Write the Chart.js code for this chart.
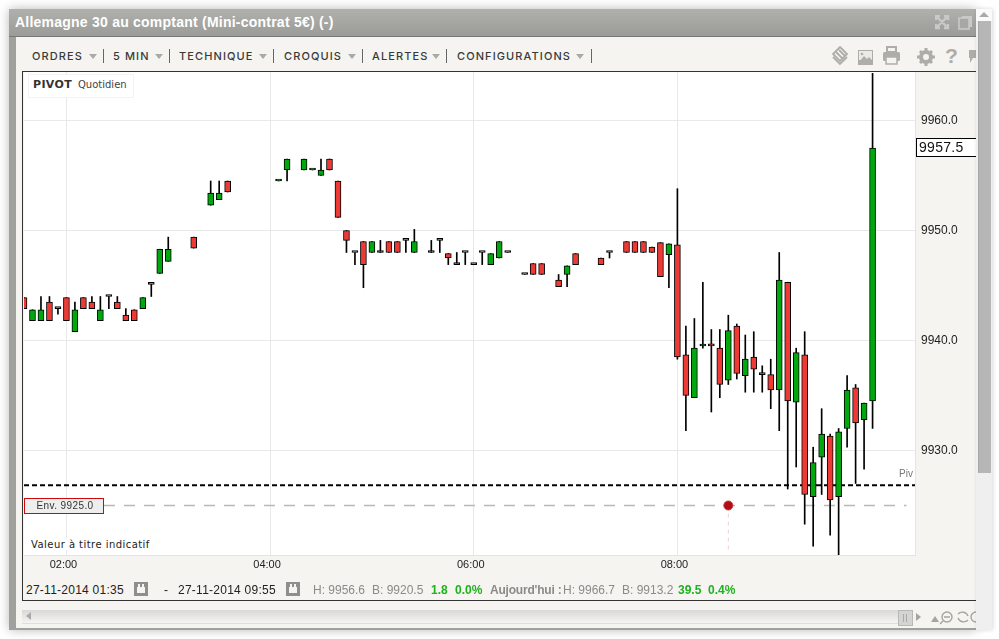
<!DOCTYPE html>
<html>
<head>
<meta charset="utf-8">
<title>Allemagne 30</title>
<script src="https://cdn.jsdelivr.net/npm/chart.js@4"></script>
<style>
html, body { margin: 0; padding: 0; background: #fff; overflow: hidden; }
body { width: 999px; height: 639px; position: relative; font-family: "Liberation Sans", Arial, sans-serif; }
div, span, canvas, svg { position: absolute; }
#win { left: 9px; top: 9px; width: 967px; height: 621px; background: #a0a19d; box-shadow: 0 0 10px rgba(0,0,0,.28); }
#titlebar { left: 9px; top: 9px; width: 967px; height: 27px; background: linear-gradient(#b0b1ad, #9b9c98); border-bottom: 1px solid #777; }
#title { left: 15px; top: 14px; font-size: 14px; font-weight: bold; letter-spacing: .23px; color: #fff; white-space: nowrap; }
#panel { left: 16px; top: 37px; width: 960px; height: 591px; background: #f5f4f1; }
#frame { left: 21.5px; top: 71px; width: 955px; border-top: 1.5px solid #333; border-left: 1.5px solid #333; border-bottom: 1.5px solid #333; height: 528px; }
#chartBox { left: 24px; top: 72px; width: 952px; height: 505px; }
.menu { top: 49px; font-family: Inter, "Open Sans", sans-serif; font-size: 11px; font-weight: 500; letter-spacing: 1.1px; color: #3a3a38; white-space: nowrap; }
.arrow { top: 54px; width: 0; height: 0; border-left: 4.5px solid transparent; border-right: 4.5px solid transparent; border-top: 5px solid #aaa9a4; }
.sep { top: 49px; width: 1px; height: 14px; background: #666; }
.foot { top: 583px; font-size: 12px; color: #222; white-space: nowrap; }
.date { letter-spacing: .25px; }
.gray { color: #8a8a88; }
.green { color: #1fb21f; font-weight: bold; }
.cal { top: 582px; width: 14px; height: 14px; background: #8e8e8c; }
.cal i { position: absolute; left: 3px; top: 5px; width: 8px; height: 6px; background: #f5f4f1; display: block; }
.cal b { position: absolute; top: 2px; width: 2px; height: 3px; background: #f5f4f1; display: block; }
#pivotTag { left: 28px; top: 74px; width: 104px; height: 22px; background: #fff; border: 1px solid #f3f3f3; }
#pivotName { left: 33px; top: 78px; font: bold 11px "DejaVu Sans", sans-serif; letter-spacing: .35px; color: #333; }
#pivotKind { left: 78px; top: 79px; font: 10px "DejaVu Sans", sans-serif; color: #444; }
#note { left: 30px; top: 539px; padding: 0 1px; background: #fff; font: 10px "DejaVu Sans", sans-serif; letter-spacing: .45px; color: #222; white-space: nowrap; }
#vbar { left: 976px; top: 9px; width: 16px; height: 621px; background: #efefef; box-shadow: 1px 0 4px rgba(0,0,0,.15); }
#vtop { left: 976px; top: 9px; width: 16px; height: 12px; background: #fafafa; }
#vtri { left: 979px; top: 12px; width: 0; height: 0; border-left: 5px solid transparent; border-right: 5px solid transparent; border-top: 0; border-bottom: 5px solid #aaa; }
#vthumb { left: 978px; top: 21px; width: 13px; height: 452px; background: #b6b6b6; border-left: 1px solid #a8a8a8; box-sizing: border-box; }
#hbar { left: 22px; top: 610px; width: 876px; height: 13px; background: linear-gradient(#d8d8d6, #f5f4f1); border-bottom: 1px solid #dedede; }
#hthumb { left: 898px; top: 610px; width: 13px; height: 14px; background: #d4d4d0; border: 1px solid #b8b8b4; }
#hthumb i { position: absolute; left: 4px; top: 3px; width: 4px; height: 8px; border-left: 1px solid #aaa; border-right: 1px solid #aaa; box-sizing: border-box; display: block; }
.tri { width: 0; height: 0; }
</style>
</head>
<body>
<div id="win"></div>
<div id="titlebar"></div>
<div id="title">Allemagne 30 au comptant (Mini-contrat 5€) (-)</div>
<svg style="left:935px;top:15px" width="40" height="16" viewBox="0 0 40 16">
  <g fill="none" stroke="#c9cac7" stroke-width="2.4">
    <path d="M1 5V1H5M9 1H13V5M13 9V13H9M5 13H1V9M2 2L12 12M12 2L2 12"/>
  </g>
  <rect x="27" y="1" width="10" height="11" fill="#c9cac7"/>
  <rect x="24" y="3" width="10" height="11" fill="#a7a8a4" stroke="#c9cac7" stroke-width="1.6"/>
</svg>
<div id="panel"></div>
<div id="frame"></div>

<div class="menu" style="left:32px">ORDRES</div><div class="arrow" style="left:89px"></div><div class="sep" style="left:103px"></div>
<div class="menu" style="left:113px">5 MIN</div><div class="arrow" style="left:155px"></div><div class="sep" style="left:169px"></div>
<div class="menu" style="left:179px">TECHNIQUE</div><div class="arrow" style="left:259px"></div><div class="sep" style="left:273px"></div>
<div class="menu" style="left:284px">CROQUIS</div><div class="arrow" style="left:348px"></div><div class="sep" style="left:362px"></div>
<div class="menu" style="left:372px">ALERTES</div><div class="arrow" style="left:432px"></div><div class="sep" style="left:446px"></div>
<div class="menu" style="left:457px">CONFIGURATIONS</div><div class="arrow" style="left:576px"></div><div class="sep" style="left:591px"></div>

<svg style="left:830px;top:46px" width="146" height="22" viewBox="0 0 146 22">
  <g fill="none" stroke="#aeada8" stroke-width="1.8"><path d="M10 1L17 8L10 15L3 8Z"/><path d="M3 11L10 18L17 11"/><path d="M6 6L13 13M9 4L15 10"/></g>
  <rect x="28" y="4" width="15" height="15" fill="#aeada8"/><rect x="29" y="5" width="13" height="9" fill="#eceae6"/><path d="M29 16L34 10L37 13L39 11L42 14V18H29Z" fill="#aeada8"/><circle cx="32" cy="8" r="1.3" fill="#aeada8"/>
  <rect x="57" y="1" width="9" height="5" fill="none" stroke="#aeada8" stroke-width="2"/><rect x="53" y="6" width="17" height="9" rx="1.5" fill="#aeada8"/><rect x="56" y="11" width="11" height="7" fill="#f5f4f1" stroke="#aeada8" stroke-width="1.5"/>
  <circle cx="96" cy="11" r="5" fill="none" stroke="#aeada8" stroke-width="4"/><g stroke="#aeada8" stroke-width="3"><path d="M96 2V5M96 17V20M87 11H90M102 11H105M90 5L92 7M100 15L102 17M102 5L100 7M92 15L90 17"/></g>
  <path d="M139 4H146V12H143L140 17V12H139Z" fill="#aeada8"/>
</svg>
<div style="left:945px;top:44px;font:bold 21px 'Liberation Sans';color:#aeada8">?</div>

<div id="chartBox"><canvas id="chart" width="952" height="505" style="position:static;display:block"></canvas></div>

<div id="pivotTag"></div>
<div id="pivotName">PIVOT</div>
<div id="pivotKind">Quotidien</div>
<div id="note">Valeur à titre indicatif</div>

<div class="foot date" style="left:26px">27-11-2014 01:35</div>
<div class="cal" style="left:134px"><i></i><b style="left:4px"></b><b style="left:8px"></b></div>
<div class="foot" style="left:164px">-</div>
<div class="foot date" style="left:178px">27-11-2014 09:55</div>
<div class="cal" style="left:286px"><i></i><b style="left:4px"></b><b style="left:8px"></b></div>
<div class="foot gray" style="left:313px">H: 9956.6</div>
<div class="foot gray" style="left:372px">B: 9920.5</div>
<div class="foot green" style="left:431px">1.8</div>
<div class="foot green" style="left:455px">0.0%</div>
<div class="foot gray" style="left:490px;font-weight:bold;letter-spacing:-.2px">Aujourd'hui :</div>
<div class="foot gray" style="left:563px">H: 9966.7</div>
<div class="foot gray" style="left:622px">B: 9913.2</div>
<div class="foot green" style="left:678px">39.5</div>
<div class="foot green" style="left:708px">0.4%</div>

<div id="hbar"></div>
<div id="hthumb"><i></i></div>
<div class="tri" style="left:26px;top:612px;border-top:4px solid transparent;border-bottom:4px solid transparent;border-right:5px solid #aaa"></div>
<div class="tri" style="left:916px;top:613px;border-top:4px solid transparent;border-bottom:4px solid transparent;border-left:5px solid #a5a49f"></div>
<svg style="left:930px;top:610px" width="46" height="16" viewBox="0 0 46 16">
  <path d="M1 12L5 6L9 12Z" fill="#a5a49f"/>
  <g fill="none" stroke="#a5a49f" stroke-width="1.4"><circle cx="17" cy="7" r="5"/><path d="M14 7H20M13 11L10 14"/><path d="M28 4A6 6 0 0 1 38 6M38 10A6 6 0 0 1 28 8"/><circle cx="46" cy="7" r="5"/></g>
</svg>

<div id="vbar"></div>
<div id="vtop"></div>
<div id="vtri"></div>
<div id="vthumb"></div>

<script>
const labels = [
  '01:35','01:40','01:45','01:50','01:55','02:00','02:05','02:10','02:15','02:20','02:25','02:30',
  '02:35','02:40','02:45','02:50','02:55','03:00','03:05','03:10','03:15','03:20','03:25','03:30',
  '03:35','03:40','03:45','03:50','03:55','04:00','04:05','04:10','04:15','04:20','04:25','04:30',
  '04:35','04:40','04:45','04:50','04:55','05:00','05:05','05:10','05:15','05:20','05:25','05:30',
  '05:35','05:40','05:45','05:50','05:55','06:00','06:05','06:10','06:15','06:20','06:25','06:30',
  '06:35','06:40','06:45','06:50','06:55','07:00','07:05','07:10','07:15','07:20','07:25','07:30',
  '07:35','07:40','07:45','07:50','07:55','08:00','08:05','08:10','08:15','08:20','08:25','08:30',
  '08:35','08:40','08:45','08:50','08:55','09:00','09:05','09:10','09:15','09:20','09:25','09:30',
  '09:35','09:40','09:45','09:50','09:55','10:00','10:05','10:10','10:15','10:20'
];
const tickLabels = ['02:00','04:00','06:00','08:00'];
const priceTicks = [9930, 9940, 9950, 9960];

const opens = [
  9943.9,9941.8,9941.8,9943.5,9942.9,9943.9,9940.8,9943.9,9943.5,9941.8,9944.0,9943.5,
  9942.3,9942.8,9942.9,9945.1,9946.1,9947.2,null,null,9949.4,null,9952.3,9952.8,
  9954.5,null,null,null,null,null,9954.5,9955.5,null,9955.5,9955.5,9955.0,
  9956.5,9954.5,9950.0,9948.0,9949.0,9948.0,9948.0,9949.0,9949.0,9949.1,9948.0,null,
  9948.0,9949.1,9947.9,9946.9,9948.0,9946.9,9948.0,9946.9,9947.5,9948.0,null,9946.0,
  9947.0,9947.0,null,9945.5,9946.0,9947.9,null,null,9947.5,9948.0,null,9949.0,
  9949.0,9949.0,9948.5,9948.9,9947.8,9948.7,9938.7,9934.8,9939.5,9939.7,9939.3,9936.4,
  9941.3,9936.8,9938.5,9936.9,9936.9,9935.5,9945.3,9934.4,9938.7,9925.8,9929.4,9931.3,
  9925.8,9932.0,9935.7,9932.8,9934.5
];
const closes = [
  9942.9,9942.8,9942.8,9941.8,9942.9,9941.8,9942.8,9942.9,9942.9,9942.8,9944.0,9942.9,
  9941.8,9941.8,9943.9,9945.1,9948.3,9948.3,null,null,9948.4,null,9953.4,9953.4,
  9953.5,null,null,null,null,null,9954.5,9956.5,null,9956.5,9955.5,9955.5,
  9955.5,9951.2,9949.1,9948.0,9946.9,9949.0,9948.0,9948.0,9948.0,9949.1,9949.0,null,
  9948.0,9949.1,9947.5,9946.9,9948.0,9946.9,9948.0,9947.9,9949.0,9948.0,null,9946.0,
  9946.0,9946.0,null,9944.9,9946.8,9946.9,null,null,9946.9,9948.0,null,9948.0,
  9948.0,9948.0,9948.0,9945.8,9948.8,9938.5,9935.0,9939.3,9939.5,9939.5,9936.0,9940.9,
  9937.0,9938.3,9937.4,9936.9,9935.5,9945.5,9934.5,9938.9,9926.0,9928.9,9931.5,9925.5,
  9931.7,9935.5,9932.5,9934.3,9957.5
];
const highs = [
  9943.9,9942.8,9944.0,9944.0,9942.9,9943.9,9943.5,9943.9,9944.0,9944.0,9944.0,9944.0,
  9942.9,9942.8,9943.9,9945.1,9948.3,9949.4,null,null,9949.4,null,9954.5,9954.5,
  9954.5,null,null,null,null,null,9954.5,9956.5,null,9956.5,9955.5,9956.5,
  9956.5,9954.5,9950.0,9948.0,9949.0,9949.0,9949.1,9949.0,9949.0,9949.1,9950.1,null,
  9949.1,9949.1,9947.9,9948.0,9948.0,9946.9,9948.0,9947.9,9949.0,9948.0,null,9946.0,
  9947.0,9947.0,null,9946.0,9946.8,9947.9,null,null,9947.5,9948.0,null,9949.0,
  9949.0,9949.0,9948.5,9948.9,9948.8,9953.8,9941.3,9942.0,9945.3,9941.0,9941.0,9942.3,
  9941.5,9940.5,9940.8,9937.7,9938.3,9948.0,9945.3,9939.3,9940.8,9930.3,9933.8,9931.5,
  9932.0,9936.8,9936.0,9934.3,9964.3
];
const lows = [
  9942.9,9941.8,9941.8,9941.8,9942.4,9941.8,9940.8,9942.9,9942.9,9941.8,9942.9,9942.9,
  9941.8,9941.8,9942.9,9944.0,9946.1,9947.2,null,null,9948.4,null,9952.3,9952.8,
  9953.5,null,null,null,null,null,9954.5,9954.5,null,9955.5,9955.5,9955.0,
  9955.5,9951.2,9948.0,9946.9,9944.8,9948.0,9948.0,9948.0,9948.0,9948.0,9948.0,null,
  9948.0,9948.0,9946.9,9946.9,9946.9,9946.9,9946.9,9946.9,9947.5,9948.0,null,9946.0,
  9946.0,9946.0,null,9944.9,9944.9,9946.9,null,null,9946.9,9947.5,null,9948.0,
  9948.0,9948.0,9948.0,9945.8,9944.8,9938.3,9931.8,9934.8,9939.3,9933.5,9934.8,9936.0,
  9936.5,9935.3,9935.3,9935.3,9933.8,9931.8,9926.5,9928.5,9923.3,9921.3,9926.0,9922.3,
  9920.5,9930.3,9927.0,9928.3,9932.0
];
const pivotLevel = 9926.85;
const envLevel = 9925.0;
const envTime = '08:30';
const envDrop = 9921.0;
const lastPrice = 9957.5;

const wickData = lows.map((l, i) => l === null ? null : [l, highs[i]]);
const bodyData = opens.map((o, i) => o === null ? null : [o, closes[i]]);
const bodyColors = opens.map((o, i) => closes[i] >= o ? '#00a80e' : '#ee3a34');

// white plot area and the labels that hang off the price scale
const overlay = {
  id: 'overlay',
  beforeDraw(chart) {
    const a = chart.chartArea;
    chart.ctx.fillStyle = '#fff';
    chart.ctx.fillRect(a.left, a.top, a.right - a.left, a.bottom - a.top);
  },
  afterDraw(chart) {
    const ctx = chart.ctx, a = chart.chartArea, y = chart.scales.y;
    ctx.save();
    ctx.textBaseline = 'middle';

    const py = Math.round(y.getPixelForValue(lastPrice));
    ctx.fillStyle = '#fff';
    ctx.fillRect(a.right + 1.5, py - 9.5, 60, 18);
    ctx.strokeStyle = '#000';
    ctx.lineWidth = 1;
    ctx.strokeRect(a.right + 1.5, py - 9.5, 60, 18);
    ctx.fillStyle = '#111';
    ctx.font = '14px "Liberation Sans"';
    ctx.letterSpacing = '0.3px';
    ctx.textAlign = 'left';
    ctx.fillText(lastPrice.toFixed(1), a.right + 4, py + 0.5);

    const ey = Math.round(y.getPixelForValue(envLevel));
    ctx.fillStyle = '#eee';
    ctx.fillRect(a.left + 0.5, ey - 7.5, 79, 15);
    ctx.strokeStyle = '#cc0a0a';
    ctx.strokeRect(a.left + 0.5, ey - 7.5, 79, 15);
    ctx.fillStyle = '#333';
    ctx.font = '10px "Liberation Sans"';
    ctx.letterSpacing = '0.4px';
    ctx.textAlign = 'center';
    ctx.fillText('Env. ' + envLevel.toFixed(1), a.left + 41, ey);
    ctx.letterSpacing = '0px';

    const vy = y.getPixelForValue(pivotLevel);
    ctx.fillStyle = '#777';
    ctx.font = '10px "Liberation Sans"';
    ctx.textAlign = 'right';
    ctx.fillText('Piv', a.right - 2, vy - 11);
    ctx.restore();
  }
};

new Chart(document.getElementById('chart'), {
  data: {
    labels: labels,
    datasets: [
      {
        type: 'line', order: 5, data: [{x: labels[0], y: pivotLevel}, {x: labels[105], y: pivotLevel}],
        borderColor: '#000', borderWidth: 2, borderDash: [5, 3], pointRadius: 0
      },
      {
        type: 'line', order: 6, data: [{x: labels[0], y: envLevel}, {x: labels[104], y: envLevel}],
        borderColor: '#bdb6b4', borderWidth: 1.5, borderDash: [11, 9], pointRadius: 0
      },
      {
        type: 'line', order: 6, data: [{x: envTime, y: envLevel}, {x: envTime, y: envDrop}],
        borderColor: '#f3cfcf', borderWidth: 1, borderDash: [4, 4], pointRadius: 0
      },
      {
        type: 'bar', order: 3, grouped: false, data: wickData,
        backgroundColor: '#000', barThickness: 1
      },
      {
        type: 'bar', order: 2, grouped: false, data: bodyData,
        backgroundColor: bodyColors, borderColor: '#000', borderWidth: 1, borderSkipped: false,
        barThickness: 6, minBarLength: 2
      },
      {
        type: 'line', order: 1, data: [{x: envTime, y: envLevel}],
        pointRadius: 4.5, pointBackgroundColor: '#b30c12', pointBorderColor: '#c23a3e', pointBorderWidth: 1, showLine: false
      }
    ]
  },
  options: {
    responsive: false,
    animation: false,
    events: [],
    layout: { padding: 0, autoPadding: false },
    plugins: { legend: { display: false }, tooltip: { enabled: false } },
    scales: {
      x: {
        type: 'category',
        offset: false,
        border: { color: '#e4e4e4' },
        grid: {
          offset: false,
          drawTicks: false,
          color: ctx => tickLabels.includes(labels[ctx.index]) ? '#e8e8e8' : 'rgba(0,0,0,0)'
        },
        ticks: {
          autoSkip: false, maxRotation: 0, padding: 3, labelOffset: -3,
          color: '#222', font: { family: 'Liberation Sans', size: 11 },
          callback: function (value) {
            const t = labels[value];
            return tickLabels.includes(t) ? t : '';
          }
        },
        afterFit(scale) {
          scale.height = 22;
          scale.paddingLeft = 0;
          scale.paddingRight = 0;
        }
      },
      y: {
        position: 'right',
        min: 9920.5,
        max: 9964.41,
        border: { color: '#e4e4e4' },
        grid: { drawTicks: false, color: '#e8e8e8' },
        afterBuildTicks(scale) { scale.ticks = priceTicks.map(v => ({value: v})); },
        ticks: {
          padding: 6, crossAlign: 'near',
          color: '#222', font: { family: 'Liberation Sans', size: 12 },
          callback: v => Number(v).toFixed(1)
        },
        afterFit(scale) {
          scale.width = 61;
          scale.paddingTop = 0;
          scale.paddingBottom = 0;
        }
      }
    }
  },
  plugins: [overlay]
});
</script>
</body>
</html>
